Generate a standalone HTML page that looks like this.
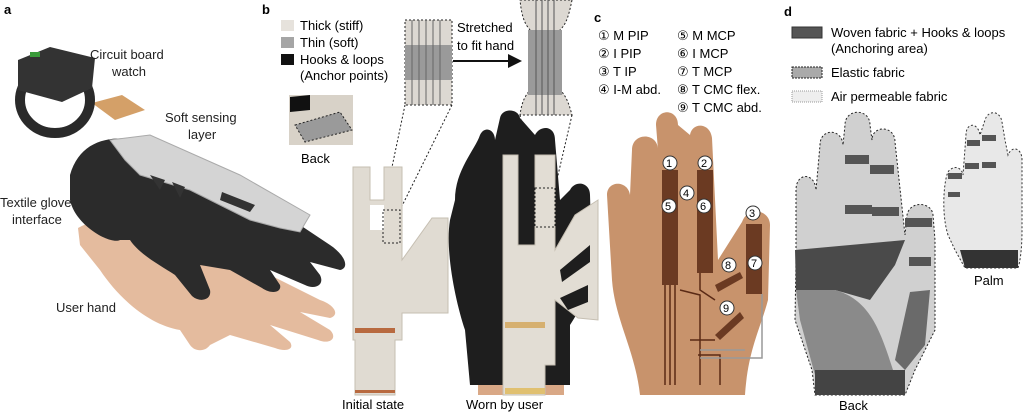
<!DOCTYPE html>
<html><head><style>
body{margin:0;background:#fff;}
svg{display:block;font-family:"Liberation Sans",sans-serif;}
</style></head><body>
<svg width="1024" height="413" viewBox="0 0 1024 413" xmlns="http://www.w3.org/2000/svg">
<!-- Panel a -->
<text x="4" y="14" font-size="13" font-weight="bold">a</text>
<path d="M78,228 C100,215 140,215 170,235 L260,270 L320,300 C335,305 340,315 330,318 L300,312 L330,330 C338,338 330,345 318,340 L270,325 L290,342 C295,350 285,352 275,348 L230,335 L210,345 C205,352 195,352 190,345 L180,330 C150,325 120,300 100,270 L80,245 Z" fill="#e4bb9e"/>
<path d="M70,175 C80,140 110,135 140,140 L200,170 L270,205 L330,245 C345,255 350,268 340,270 L310,262 L320,275 C325,285 315,290 305,285 L270,270 L280,285 C282,292 272,295 262,288 L230,270 L200,265 L210,290 C212,300 200,303 192,296 L175,275 C160,265 140,255 130,240 L120,240 C110,245 75,225 70,200 Z" fill="#2b2b2b"/>
<path d="M110,140 L150,135 L240,175 L310,215 L300,232 L280,228 L250,220 L190,190 L140,175 L125,160 Z" fill="#d4d4d4" stroke="#aaa"/>
<path d="M92,103 L122,95 L145,110 L115,120 Z" fill="#d4a068"/>
<g fill="#333"><path d="M150,175 L165,180 L160,190Z"/><path d="M172,182 L185,187 L180,198Z"/><path d="M222,192 L255,205 L250,212 L220,200Z"/></g>
<ellipse cx="55" cy="100" rx="35" ry="33" fill="none" stroke="#2a2a2a" stroke-width="10"/>
<path d="M18,60 L50,47 L95,58 L92,88 L62,102 L18,90Z" fill="#333"/>
<rect x="30" y="52" width="10" height="5" fill="#3a9a3a"/>
<text x="90" y="59" font-size="13" fill="#222">Circuit board</text>
<text x="112" y="76" font-size="13" fill="#222">watch</text>
<text x="165" y="122" font-size="13" fill="#222">Soft sensing</text>
<text x="188" y="139" font-size="13" fill="#222">layer</text>
<text x="0" y="207" font-size="13" fill="#222">Textile glove</text>
<text x="12" y="224" font-size="13" fill="#222">interface</text>
<text x="56" y="312" font-size="13" fill="#222">User hand</text>

<!-- Panel b -->
<text x="262" y="14" font-size="13" font-weight="bold">b</text>
<rect x="281" y="20" width="13" height="11" fill="#e6e2dc"/>
<text x="300" y="30" font-size="13">Thick (stiff)</text>
<rect x="281" y="37" width="13" height="11" fill="#a5a5a5"/>
<text x="300" y="47" font-size="13">Thin (soft)</text>
<rect x="281" y="54" width="13" height="11" fill="#111"/>
<text x="300" y="64" font-size="13">Hooks &amp; loops</text>
<text x="300" y="80" font-size="13">(Anchor points)</text>
<rect x="289" y="95" width="64" height="50" fill="#d8d2c8"/>
<path d="M290,97 L310,95 L310,110 L290,112Z" fill="#111"/>
<path d="M295,125 L340,112 L352,130 L305,142Z" fill="#9a9a9a" stroke="#222" stroke-dasharray="2,2"/>
<text x="301" y="163" font-size="13">Back</text>
<rect x="405" y="20" width="47" height="85" fill="#dcd8d2" stroke="#222" stroke-dasharray="2,2"/>
<rect x="405" y="45" width="47" height="35" fill="#9a9a9a"/>
<g stroke="#666" stroke-width="1"><line x1="412" y1="20" x2="412" y2="105"/><line x1="419" y1="20" x2="419" y2="105"/><line x1="426" y1="20" x2="426" y2="105"/><line x1="433" y1="20" x2="433" y2="105"/><line x1="440" y1="20" x2="440" y2="105"/></g>
<text x="457" y="32" font-size="13">Stretched</text>
<text x="457" y="50" font-size="13">to fit hand</text>
<line x1="453" y1="61" x2="510" y2="61" stroke="#111" stroke-width="2"/>
<polygon points="522,61 508,54 508,68" fill="#111"/>
<path d="M520,0 L572,0 C568,20 565,25 560,30 L560,90 C565,95 568,100 572,115 L520,115 C522,100 526,95 530,90 L530,30 C526,25 522,20 520,0Z" fill="#dcd8d2" stroke="#222" stroke-dasharray="2,2"/>
<rect x="528" y="30" width="34" height="65" fill="#9a9a9a"/>
<g stroke="#555"><line x1="536" y1="0" x2="536" y2="115"/><line x1="542" y1="0" x2="542" y2="115"/><line x1="548" y1="0" x2="548" y2="115"/><line x1="554" y1="0" x2="554" y2="115"/></g>
<g stroke="#222" stroke-dasharray="2,2" fill="none"><line x1="405" y1="105" x2="383" y2="210"/><line x1="452" y1="105" x2="400" y2="210"/><line x1="520" y1="115" x2="535" y2="188"/><line x1="572" y1="115" x2="555" y2="188"/></g>
<!-- initial state sensor -->
<path d="M353,167 L370,167 L370,200 L384,200 L384,167 L402,167 L402,260 L432,218 L448,218 L448,313 L402,313 L402,340 L395,340 L395,395 L355,395 L355,340 L353,340 Z" fill="#e0dbd2" stroke="#c6bfb2"/>
<rect x="370" y="205" width="14" height="25" fill="#fff"/>
<rect x="383" y="210" width="17" height="33" fill="none" stroke="#222" stroke-dasharray="2,2"/>
<rect x="355" y="328" width="40" height="5" fill="#b86a40"/>
<rect x="355" y="390" width="40" height="3" fill="#b86a40"/>
<text x="342" y="409" font-size="13">Initial state</text>
<!-- worn glove -->
<path d="M455,200 C455,170 475,150 480,135 C485,125 495,130 495,140 L500,118 C502,108 518,108 520,118 L535,135 C540,125 555,125 555,140 L560,200 L570,190 C575,180 590,182 590,195 L592,260 C590,290 580,310 570,325 L570,385 L470,385 L465,330 C455,300 445,250 450,220 Z" fill="#1e1e1e"/>
<rect x="478" y="385" width="86" height="10" fill="#d9a886"/>
<path d="M503,155 L518,155 L518,245 L535,245 L535,155 L555,155 L555,250 L575,215 L598,200 L598,320 L578,318 L555,300 L555,365 L545,365 L545,395 L503,395 L503,365 Z" fill="#e2ddd4" stroke="#c6bfb2"/>
<path d="M560,270 L590,245 L590,262 L562,282Z" fill="#1e1e1e"/>
<path d="M560,298 L588,285 L588,302 L568,310Z" fill="#1e1e1e"/>
<rect x="535" y="188" width="20" height="39" fill="none" stroke="#222" stroke-dasharray="2,2"/>
<rect x="505" y="322" width="40" height="6" fill="#d6b070"/>
<rect x="505" y="388" width="40" height="6" fill="#e0c070"/>
<text x="466" y="409" font-size="13">Worn by user</text>

<!-- Panel c -->
<text x="594" y="22" font-size="13" font-weight="bold">c</text>
<g font-size="13" font-family="Liberation Sans,DejaVu Sans,sans-serif">
<text x="598" y="40">① M PIP</text><text x="677" y="40">⑤ M MCP</text>
<text x="598" y="58">② I PIP</text><text x="677" y="58">⑥ I MCP</text>
<text x="598" y="76">③ T IP</text><text x="677" y="76">⑦ T MCP</text>
<text x="598" y="94">④ I-M abd.</text><text x="677" y="94">⑧ T CMC flex.</text>
<text x="677" y="112">⑨ T CMC abd.</text>
</g>
<path d="M607,195 C607,180 628,180 630,195 L632,150 C632,132 658,132 658,150 L656,125 C656,108 678,108 678,125 L690,135 C692,122 710,122 712,138 L718,260 L742,222 C748,205 770,210 770,225 L768,300 C760,330 748,350 745,395 L640,395 C635,350 615,320 612,280 Z" fill="#c8936c"/>
<g fill="#6b3a22"><rect x="662" y="170" width="16" height="115"/><rect x="697" y="170" width="16" height="103"/><rect x="746" y="224" width="16" height="70"/><path d="M715,285 L740,272 L743,278 L718,292Z"/><path d="M715,335 L740,312 L744,318 L720,340Z"/></g>
<g stroke="#5a2a15" stroke-width="1.5" fill="none"><path d="M665,285 L665,385"/><path d="M670,285 L670,385"/><path d="M675,285 L675,385"/><path d="M680,290 L700,295 L700,385"/><path d="M700,273 L700,290 L715,300"/><path d="M690,340 L715,340"/><path d="M698,355 L720,355 L720,385"/></g>
<g stroke="#999" stroke-width="1.5" fill="none"><path d="M762,294 L762,358 L700,358"/><path d="M745,350 L700,350"/></g>
<g font-size="11" fill="#000"><circle cx="670" cy="163" r="7" fill="#fff" stroke="#333"/><text x="666" y="167">1</text>
<circle cx="705" cy="163" r="7" fill="#fff" stroke="#333"/><text x="701" y="167">2</text>
<circle cx="753" cy="213" r="7" fill="#fff" stroke="#333"/><text x="749" y="217">3</text>
<circle cx="687" cy="193" r="7" fill="#fff" stroke="#333"/><text x="683" y="197">4</text>
<circle cx="669" cy="206" r="7" fill="#fff" stroke="#333"/><text x="665" y="210">5</text>
<circle cx="704" cy="206" r="7" fill="#fff" stroke="#333"/><text x="700" y="210">6</text>
<circle cx="755" cy="263" r="7" fill="#fff" stroke="#333"/><text x="751" y="267">7</text>
<circle cx="729" cy="265" r="7" fill="#fff" stroke="#333"/><text x="725" y="269">8</text>
<circle cx="727" cy="308" r="7" fill="#fff" stroke="#333"/><text x="723" y="312">9</text></g>

<!-- Panel d -->
<text x="784" y="16" font-size="13" font-weight="bold">d</text>
<rect x="792" y="27" width="30" height="11" fill="#555" stroke="#333"/>
<text x="831" y="37" font-size="13">Woven fabric + Hooks &amp; loops</text>
<text x="831" y="53" font-size="13">(Anchoring area)</text>
<rect x="792" y="67" width="30" height="11" fill="#aaa" stroke="#222" stroke-dasharray="2,1"/>
<text x="831" y="77" font-size="13">Elastic fabric</text>
<rect x="792" y="91" width="30" height="11" fill="#eee" stroke="#999" stroke-dasharray="1,1"/>
<text x="831" y="101" font-size="13">Air permeable fabric</text>
<path d="M796,260 L796,190 C796,172 815,172 816,190 L820,145 C820,128 842,128 843,145 L845,125 C845,108 870,108 870,125 L872,140 C872,125 895,125 895,142 L905,235 L907,215 C910,200 932,202 933,215 L935,240 L935,330 L915,370 L905,395 L815,395 L812,370 L795,320 Z" fill="#d0d0d0" stroke="#222" stroke-dasharray="2,2"/>
<path d="M795,250 L905,240 L895,265 L870,300 L835,290 L796,290 Z" fill="#4a4a4a"/>
<path d="M796,290 L835,290 C870,300 880,330 893,370 L815,375 L800,320Z" fill="#8a8a8a"/>
<path d="M910,292 L930,290 L925,345 L905,370 L895,360 Z" fill="#6a6a6a"/>
<path d="M815,370 L905,370 L905,395 L815,395Z" fill="#444"/>
<g fill="#555"><rect x="845" y="155" width="24" height="9"/><rect x="870" y="165" width="24" height="9"/><rect x="845" y="205" width="27" height="9"/><rect x="872" y="207" width="27" height="9"/><rect x="905" y="218" width="27" height="9"/><rect x="909" y="257" width="22" height="9"/></g>
<text x="839" y="410" font-size="13">Back</text>
<path d="M948,235 C940,210 945,170 950,170 C955,165 962,168 963,175 L966,135 C966,122 978,122 980,135 L985,120 C988,110 1000,110 1002,122 L1005,140 L1008,155 C1012,145 1022,148 1022,160 L1022,230 C1022,250 1020,262 1018,268 L965,268 L955,250 Z" fill="#e8e8e8" stroke="#333" stroke-dasharray="2,2"/>
<path d="M960,250 L1018,250 L1018,268 L965,268Z" fill="#333"/>
<g fill="#555"><rect x="967" y="140" width="13" height="6"/><rect x="982" y="135" width="14" height="6"/><rect x="965" y="163" width="14" height="6"/><rect x="982" y="162" width="14" height="6"/><rect x="948" y="173" width="14" height="6"/><rect x="948" y="192" width="12" height="5"/></g>
<text x="974" y="285" font-size="13">Palm</text>
</svg>
</body></html>
